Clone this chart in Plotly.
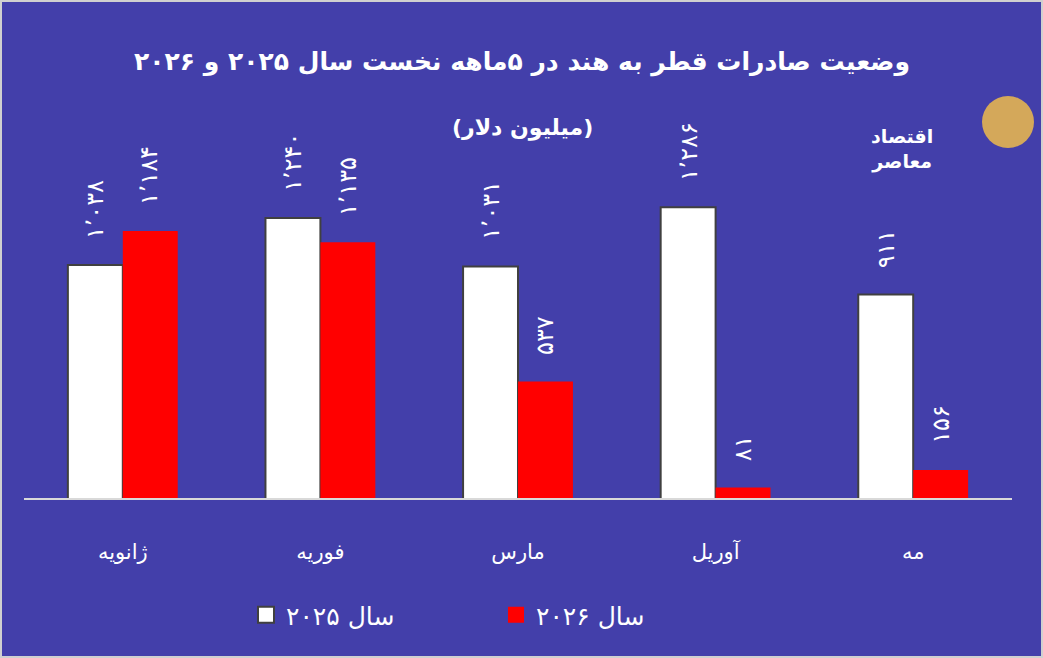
import plotly.graph_objects as go

months = ["ژانویه", "فوریه", "مارس", "آوریل", "مه"]
vals_2025 = [1038, 1240, 1031, 1286, 911]
vals_2026 = [1184, 1135, 537, 81, 156]
labels_2025 = ["۱٬۰۳۸", "۱٬۲۴۰", "۱٬۰۳۱", "۱٬۲۸۶", "۹۱۱"]
labels_2026 = ["۱٬۱۸۴", "۱٬۱۳۵", "۵۳۷", "۸۱", "۱۵۶"]
series_names = ["سال ۲۰۲۵", "سال ۲۰۲۶"]
title_text = "وضعیت صادرات قطر به هند در ۵ماهه نخست سال ۲۰۲۵ و ۲۰۲۶"
subtitle_text = "(میلیون دلار)"

BG = "#433FAA"
FONT = "DejaVu Sans"

PL, PR, PT, PB = 24, 1012, 140, 498
W, H = 1043, 658
def px_x(p):
    return (p - PL) / (PR - PL)
def px_y(p):
    return (PB - p) / (PB - PT)

fig = go.Figure()
fig.add_trace(go.Bar(
    x=months, y=vals_2025, name=series_names[0], showlegend=False,
    marker=dict(color="white", line=dict(color="#404040", width=2)),
))
fig.add_trace(go.Bar(
    x=months, y=vals_2026, name=series_names[1], showlegend=False,
    marker=dict(color="#FF0000", line=dict(width=0)),
))
# legend entries with larger square symbols
fig.add_trace(go.Scatter(
    x=[None], y=[None], mode="markers", name=series_names[0],
    marker=dict(symbol="square", size=16, color="white", line=dict(color="#404040", width=2)),
))
fig.add_trace(go.Scatter(
    x=[None], y=[None], mode="markers", name=series_names[1],
    marker=dict(symbol="square", size=16, color="#FF0000", line=dict(width=0)),
))

annotations = []
for m, v, t in zip(months, vals_2025, labels_2025):
    annotations.append(dict(x=m, y=v, xref="x", yref="y", text=t, showarrow=False,
                            textangle=-90, xshift=-27, yshift=24, yanchor="bottom",
                            font=dict(family=FONT, size=24, color="white")))
for m, v, t in zip(months, vals_2026, labels_2026):
    annotations.append(dict(x=m, y=v, xref="x", yref="y", text=t, showarrow=False,
                            textangle=-90, xshift=27, yshift=24, yanchor="bottom",
                            font=dict(family=FONT, size=24, color="white")))

annotations.append(dict(x=px_x(522), y=px_y(45), xref="paper", yref="paper",
                        text="<b>" + title_text + "</b>", showarrow=False,
                        font=dict(family=FONT, size=25, color="white")))
annotations.append(dict(x=px_x(522), y=px_y(113), xref="paper", yref="paper",
                        text="<b>" + subtitle_text + "</b>", showarrow=False,
                        font=dict(family=FONT, size=22, color="white")))
annotations.append(dict(x=px_x(935), y=px_y(123), xref="paper", yref="paper",
                        text="<b>اقتصاد<br>معاصر</b>", showarrow=False,
                        font=dict(family=FONT, size=19, color="white")))

shapes = [
    dict(type="circle", xref="paper", yref="paper",
         x0=px_x(982), x1=px_x(1034), y0=px_y(148), y1=px_y(96),
         fillcolor="#D4A85A", line=dict(width=0)),
    dict(type="rect", xref="paper", yref="paper",
         x0=px_x(1), x1=px_x(1042), y0=px_y(657), y1=px_y(1),
         line=dict(color="#D0D0D0", width=2), fillcolor="rgba(0,0,0,0)"),
]

fig.update_layout(
    width=W, height=H,
    margin=dict(l=PL, r=W - PR, t=PT, b=H - PB),
    paper_bgcolor=BG, plot_bgcolor=BG,
    barmode="group", bargap=0.444, bargroupgap=0,
    showlegend=True,
    legend=dict(orientation="h", x=px_x(246), xanchor="left", y=px_y(615), yanchor="middle",
                font=dict(family=FONT, size=25, color="white"), itemsizing="trace",
                bgcolor="rgba(0,0,0,0)", traceorder="normal", entrywidth=205),
    annotations=annotations,
    shapes=shapes,
    xaxis=dict(showgrid=False, showline=True, linecolor="#D9D9D9", linewidth=2,
               ticks="", tickfont=dict(family=FONT, size=21, color="white"),
               ticklabelstandoff=34),
    yaxis=dict(range=[36, 1575], showgrid=False, showticklabels=False, zeroline=False,
               showline=False, fixedrange=True),
    font=dict(family=FONT, color="white"),
)

fig.write_html("out.html", config={"displayModeBar": False},
               post_script="document.body.style.margin='0';")
